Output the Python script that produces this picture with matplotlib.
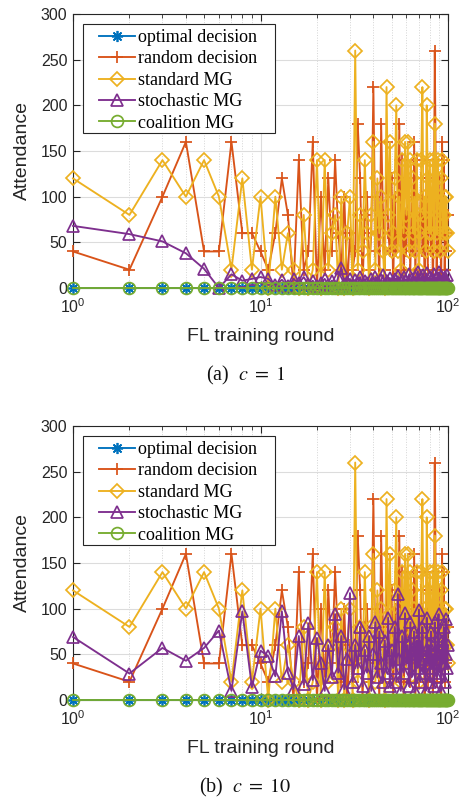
import matplotlib
matplotlib.use('Agg')
import matplotlib.pyplot as plt
from matplotlib.patches import Rectangle
from matplotlib.ticker import MultipleLocator, LogLocator, NullFormatter, FixedLocator, FixedFormatter

plt.rcParams['mathtext.fontset'] = 'stix'

# ---------------- data ----------------
rounds = list(range(1, 101))

optimal_decision = [0] * 100
coalition_mg = [0] * 100

random_decision = [40, 20, 100, 160, 40, 40, 160, 60, 60, 40,
                   20, 60, 120, 80, 0, 140, 20, 40, 160, 0,
                   100, 20, 120, 40, 140, 60, 20, 100, 0, 60,
                   20, 40, 180, 120, 0, 80, 100, 20, 60, 220,
                   40, 100, 0, 180, 80, 20, 160, 60, 40, 120,
                   0, 100, 40, 60, 180, 20, 140, 0, 80, 40,
                   120, 60, 20, 100, 40, 160, 0, 140, 60, 20,
                   80, 120, 40, 100, 0, 60, 140, 20, 120, 80,
                   40, 100, 0, 60, 260, 140, 20, 80, 120, 40,
                   100, 0, 160, 60, 140, 20, 80, 40, 60, 80]

standard_mg = [120, 80, 140, 100, 140, 100, 20, 120, 20, 100,
               0, 100, 20, 60, 20, 0, 80, 0, 20, 140,
               0, 140, 20, 60, 80, 0, 100, 0, 60, 100,
               0, 260, 20, 80, 40, 140, 60, 0, 80, 160,
               20, 120, 60, 100, 40, 0, 220, 80, 160, 40,
               60, 120, 200, 40, 100, 20, 140, 60, 160, 80,
               160, 40, 140, 120, 60, 100, 40, 140, 80, 20,
               60, 140, 220, 80, 100, 40, 200, 120, 60, 140,
               60, 100, 140, 40, 180, 120, 60, 140, 100, 80,
               40, 120, 140, 60, 80, 100, 60, 100, 60, 40]

stochastic_mg_c1 = [68, 59, 51, 38, 21, 0, 15, 8, 10, 12,
                    10, 3, 9, 2, 10, 5, 12, 4, 8, 2,
                    6, 10, 3, 8, 1, 12, 22, 4, 7, 10,
                    2, 9, 5, 12, 3, 8, 6, 1, 10, 4,
                    12, 6, 2, 9, 14, 3, 8, 5, 11, 2,
                    7, 10, 4, 13, 6, 1, 9, 12, 3, 8,
                    5, 15, 2, 10, 7, 4, 12, 6, 18, 3,
                    9, 11, 5, 14, 2, 8, 16, 6, 4, 12,
                    3, 10, 7, 15, 5, 1, 11, 8, 17, 4,
                    9, 13, 6, 2, 10, 12, 5, 8, 14, 4]

stochastic_mg_c10 = [69, 29, 57, 43, 57, 76, 10, 97, 14, 54,
                     48, 26, 97, 30, 12, 70, 17, 84, 22, 68,
                     40, 10, 60, 25, 94, 30, 70, 12, 45, 117,
                     20, 60, 35, 80, 15, 55, 30, 70, 10, 50,
                     85, 25, 75, 40, 20, 65, 30, 90, 15, 55,
                     35, 80, 20, 116, 45, 10, 70, 30, 95, 40,
                     60, 15, 85, 25, 50, 75, 10, 65, 35, 99,
                     20, 55, 80, 30, 45, 10, 90, 40, 60, 20,
                     75, 35, 50, 15, 85, 45, 25, 70, 94, 30,
                     55, 10, 65, 40, 80, 20, 50, 89, 35, 60]

series_labels = ['optimal decision', 'random decision', 'standard MG',
                 'stochastic MG', 'coalition MG']
x_tick_labels = [r'$\mathregular{10^{0}}$', r'$\mathregular{10^{1}}$', r'$\mathregular{10^{2}}$']
captions = [r'(a)  $c\;=\;1$', r'(b)  $c\;=\;10$']

# ---------------- style ----------------
colors = ['#0072BD', '#D95319', '#EDB120', '#7E2F8E', '#77AC30']
markers = [(8, 2, 0), '+', 'D', '^', 'o']
msizes = [8, 9, 7.2, 9, 8.5]
sans = 'Liberation Sans'
serif = 'Liberation Serif'
dark = '#262626'

fig = plt.figure(figsize=(4.66, 7.99), dpi=100)
W, H = 466.0, 799.0
AX_L, AX_R = 73, 448
AX_HPX = 274


def fx(px):
    return px / W


def fy(py):
    return 1 - py / H


def draw(ax_top_px, stoch, caption_y_px, caption):
    ax = fig.add_axes([fx(AX_L), fy(ax_top_px + AX_HPX), fx(AX_R - AX_L), AX_HPX / H])
    data = [optimal_decision, random_decision, standard_mg, stoch, coalition_mg]
    for i, (d, lab) in enumerate(zip(data, series_labels)):
        ax.plot(rounds, d, color=colors[i], marker=markers[i], ms=msizes[i],
                mfc='none', mec=colors[i], mew=1.25, lw=1.35, label=lab,
                clip_on=False, zorder=3 + i)
    ax.set_xscale('log')
    ax.set_xlim(1, 100)
    ax.set_ylim(0, 300)
    ax.yaxis.set_major_locator(MultipleLocator(50))
    ax.xaxis.set_major_locator(FixedLocator([1, 10, 100]))
    ax.xaxis.set_major_formatter(FixedFormatter(x_tick_labels))
    ax.xaxis.set_minor_locator(LogLocator(base=10, subs=range(2, 10)))
    ax.xaxis.set_minor_formatter(NullFormatter())
    ax.grid(True, which='major', color='#dcdcdc', lw=0.8, ls='-', zorder=0)
    ax.grid(True, which='minor', axis='x', color='#d4d4d4', lw=0.7, ls=':', zorder=0)
    ax.set_axisbelow(True)
    ax.tick_params(which='both', direction='in', top=True, right=True, color=dark)
    ax.tick_params(which='major', length=5, labelsize=11.5)
    ax.tick_params(axis='x', which='major', pad=7)
    ax.tick_params(axis='y', which='major', pad=4)
    ax.tick_params(which='minor', length=3)
    for lbl in ax.get_xticklabels() + ax.get_yticklabels():
        lbl.set_family(sans)
        lbl.set_color(dark)
    for sp in ax.spines.values():
        sp.set_color(dark)
        sp.set_linewidth(0.8)
    ax.set_ylabel('Attendance', family=sans, fontsize=14, color=dark, labelpad=7)
    ax.set_xlabel('FL training round', family=sans, fontsize=14, color=dark, labelpad=8)

    # legend box (MATLAB style)
    bx0, by0 = AX_L + 10, ax_top_px + 10
    bw, bh = 192, 109
    ax.add_patch(Rectangle((fx(bx0), fy(by0 + bh)), fx(bw), bh / H,
                           transform=fig.transFigure, facecolor='white',
                           edgecolor=dark, lw=0.8, zorder=19, clip_on=False))
    fs = 13
    fpx = fs * 100 / 72.0
    leg = ax.legend(loc='upper left', bbox_to_anchor=(fx(bx0 + 16), fy(by0 + 5)),
                    bbox_transform=fig.transFigure, borderaxespad=0, borderpad=0,
                    prop={'family': serif, 'size': fs}, frameon=False,
                    handlelength=36 / fpx, handletextpad=3 / fpx, labelspacing=0.245)
    leg.set_zorder(20)
    fig.text(0.526, fy(caption_y_px), caption, ha='center', va='center',
             family=serif, fontsize=14.5, color='#111111')


draw(14, stochastic_mg_c1, 375, captions[0])
draw(426, stochastic_mg_c10, 787, captions[1])

fig.savefig('out.png', dpi=100)
